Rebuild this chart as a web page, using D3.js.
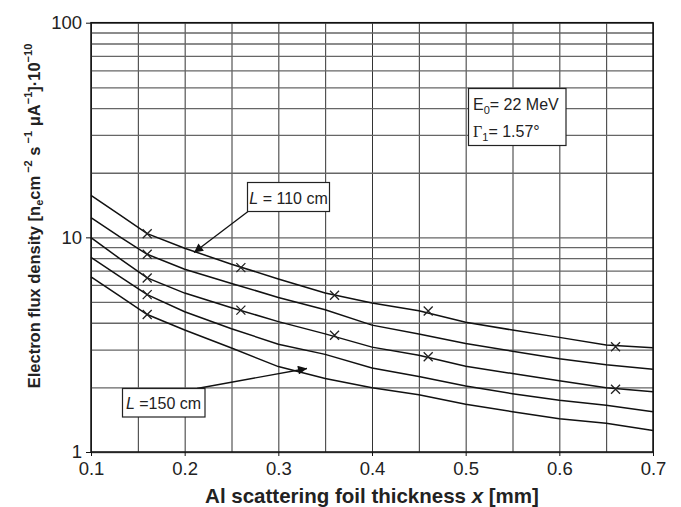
<!DOCTYPE html>
<html>
<head>
<meta charset="utf-8">
<script src="https://cdn.jsdelivr.net/npm/d3@7"></script>
<style>
  html, body { margin: 0; padding: 0; background: #fff; }
  svg { display: block; font-family: "Liberation Sans", Arial, sans-serif; }
</style>
</head>
<body>
<svg id="chart" width="681" height="507"></svg>
<script>
// ---- data ----
const xValues = [0.1, 0.13, 0.16, 0.2, 0.25, 0.3, 0.35, 0.4, 0.45, 0.5, 0.55, 0.6, 0.65, 0.7];
const curve1 = [15.7, 12.8, 10.4, 8.9, 7.5, 6.4, 5.5, 4.95, 4.55, 4.02, 3.7, 3.42, 3.15, 3.06]; // L = 110 cm
const curve2 = [12.35, 10.1, 8.34, 7.1, 6.1, 5.25, 4.6, 3.9, 3.55, 3.2, 2.95, 2.72, 2.55, 2.43];
const curve3 = [9.97, 8.0, 6.47, 5.5, 4.7, 4.05, 3.55, 3.08, 2.82, 2.51, 2.32, 2.15, 1.99, 1.91];
const curve4 = [8.07, 6.6, 5.41, 4.5, 3.75, 3.18, 2.85, 2.46, 2.25, 2.03, 1.87, 1.74, 1.65, 1.54];
const curve5 = [6.54, 5.35, 4.37, 3.7, 3.05, 2.5, 2.2, 1.99, 1.85, 1.67, 1.54, 1.43, 1.36, 1.26]; // L = 150 cm
const markerX = [0.16, 0.16, 0.16, 0.16, 0.16, 0.26, 0.26, 0.36, 0.36, 0.46, 0.46, 0.66, 0.66];
const markerY = [10.4, 8.34, 6.47, 5.41, 4.37, 7.23, 4.58, 5.37, 3.50, 4.54, 2.78, 3.09, 1.96];
const xTickLabels = [0.1, 0.2, 0.3, 0.4, 0.5, 0.6, 0.7];
const yTickLabels = [1, 10, 100];

// ---- layout ----
const L = 91, R = 653, T = 22.7, B = 452;
const svg = d3.select("#chart");
const x = d3.scaleLinear().domain([0.1, 0.7]).range([L, R]);
const y = d3.scaleLog().domain([1, 100]).range([B, T]);

// grid: vertical every 0.05
const xGrid = d3.range(0, 13).map(i => +(0.1 + i * 0.05).toFixed(2));
svg.append("g").attr("transform", `translate(0,${B})`)
  .call(d3.axisBottom(x).tickValues(xGrid).tickSize(-(B - T)).tickFormat(""))
  .call(g => g.select(".domain").remove())
  .call(g => g.selectAll("line").attr("stroke", "#333").attr("stroke-width", 1));

// grid: horizontal log minor lines
const yGrid = [];
for (const d of [1, 10]) for (let k = 1; k <= 10; k++) yGrid.push(d * k);
svg.append("g").attr("transform", `translate(${L},0)`)
  .call(d3.axisLeft(y).tickValues(Array.from(new Set(yGrid))).tickSize(-(R - L)).tickFormat(""))
  .call(g => g.select(".domain").remove())
  .call(g => g.selectAll("line").attr("stroke", "#666").attr("stroke-width", 1.3));

// frame
svg.append("rect").attr("x", L).attr("y", T).attr("width", R - L).attr("height", B - T)
  .attr("fill", "none").attr("stroke", "#111").attr("stroke-width", 1.5);

// x axis ticks + labels
svg.append("g").attr("transform", `translate(0,${B})`)
  .call(d3.axisBottom(x).tickValues(xTickLabels).tickSize(4).tickPadding(6).tickFormat(d3.format(".1f")))
  .call(g => g.select(".domain").remove())
  .call(g => g.selectAll("line").attr("stroke", "#111"))
  .call(g => g.selectAll("text").attr("font-size", 18.5).attr("fill", "#222")
    .attr("font-family", "Liberation Sans, Arial, sans-serif"));

// y axis ticks + labels
svg.append("g").attr("transform", `translate(${L},0)`)
  .call(d3.axisLeft(y).tickValues(yTickLabels).tickSize(5).tickPadding(4).tickFormat(d3.format("d")))
  .call(g => g.select(".domain").remove())
  .call(g => g.selectAll("line").attr("stroke", "#111"))
  .call(g => g.selectAll("text").attr("font-size", 18.5).attr("fill", "#222")
    .attr("font-family", "Liberation Sans, Arial, sans-serif"));

// curves
const line = d3.line().x(d => x(d[0])).y(d => y(d[1])).curve(d3.curveLinear);
[curve1, curve2, curve3, curve4, curve5].forEach(c => {
  svg.append("path").datum(xValues.map((xv, i) => [xv, c[i]]))
    .attr("d", line).attr("fill", "none").attr("stroke", "#111").attr("stroke-width", 1.5);
});

// markers
const ms = 4.5;
markerX.forEach((mx, i) => {
  const cx = x(mx), cy = y(markerY[i]);
  svg.append("path")
    .attr("d", `M${cx - ms},${cy - ms}L${cx + ms},${cy + ms}M${cx - ms},${cy + ms}L${cx + ms},${cy - ms}`)
    .attr("stroke", "#222").attr("stroke-width", 1.3).attr("fill", "none");
});

// arrowhead marker
svg.append("defs").append("marker").attr("id", "ah")
  .attr("viewBox", "0 0 10 10").attr("refX", 10).attr("refY", 5)
  .attr("markerWidth", 15).attr("markerHeight", 9).attr("markerUnits", "userSpaceOnUse")
  .attr("orient", "auto")
  .append("path").attr("d", "M0,0L10,5L0,10Z").attr("fill", "#111");

// annotation: L = 110 cm
svg.append("line").attr("x1", 248).attr("y1", 211.5).attr("x2", 194).attr("y2", 252.5)
  .attr("stroke", "#111").attr("stroke-width", 1.3).attr("marker-end", "url(#ah)");
svg.append("rect").attr("x", 247.5).attr("y", 182.5).attr("width", 82).attr("height", 29)
  .attr("fill", "#fff").attr("stroke", "#222").attr("stroke-width", 1.2);
const t110 = svg.append("text").attr("x", 288.5).attr("y", 203.5).attr("text-anchor", "middle")
  .attr("font-size", 16).attr("fill", "#222");
t110.append("tspan").attr("font-style", "italic").text("L");
t110.append("tspan").text(" = 110 cm");

// annotation: L = 150 cm
svg.append("line").attr("x1", 197).attr("y1", 388.5).attr("x2", 307).attr("y2", 368.5)
  .attr("stroke", "#111").attr("stroke-width", 1.3).attr("marker-end", "url(#ah)");
svg.append("rect").attr("x", 122.5).attr("y", 388.5).attr("width", 82.5).attr("height", 28.5)
  .attr("fill", "#fff").attr("stroke", "#222").attr("stroke-width", 1.2);
const t150 = svg.append("text").attr("x", 163.5).attr("y", 408.5).attr("text-anchor", "middle")
  .attr("font-size", 16).attr("fill", "#222");
t150.append("tspan").attr("font-style", "italic").text("L");
t150.append("tspan").text(" =150 cm");

// parameter box
svg.append("rect").attr("x", 468.5).attr("y", 88.5).attr("width", 97.5).attr("height", 57)
  .attr("fill", "#fff").attr("stroke", "#222").attr("stroke-width", 1.2);
const tE = svg.append("text").attr("x", 473).attr("y", 110).attr("font-size", 16).attr("fill", "#222");
tE.append("tspan").text("E");
tE.append("tspan").attr("font-size", 11).attr("dy", 4).text("0");
tE.append("tspan").attr("dy", -4).text("= 22 MeV");
const tG = svg.append("text").attr("x", 473).attr("y", 137).attr("font-size", 16).attr("fill", "#222");
tG.append("tspan").attr("font-family", "Liberation Serif, Times New Roman, serif").text("Γ");
tG.append("tspan").attr("font-size", 11).attr("dy", 4).text("1");
tG.append("tspan").attr("dy", -4).text("= 1.57°");

// x axis title
const xt = svg.append("text").attr("x", (L + R) / 2).attr("y", 503).attr("text-anchor", "middle")
  .attr("font-size", 20.5).attr("font-weight", "bold").attr("fill", "#222");
xt.append("tspan").text("Al scattering foil thickness ");
xt.append("tspan").attr("font-style", "italic").text("x");
xt.append("tspan").text(" [mm]");

// y axis title
const yt = svg.append("text").attr("transform", `translate(40,216) rotate(-90)`)
  .attr("text-anchor", "middle").attr("font-size", 16.5).attr("font-weight", "bold").attr("fill", "#222");
yt.append("tspan").text("Electron flux density [n");
yt.append("tspan").attr("font-size", 11).attr("dy", 3).text("e");
yt.append("tspan").attr("dy", -3).text("cm");
yt.append("tspan").attr("font-size", 11).attr("dy", -8).text(" −2");
yt.append("tspan").attr("dy", 8).text(" s");
yt.append("tspan").attr("font-size", 11).attr("dy", -8).text(" −1");
yt.append("tspan").attr("dy", 8).text(" μA");
yt.append("tspan").attr("font-size", 11).attr("dy", -8).text("−1");
yt.append("tspan").attr("dy", 8).text("]·10");
yt.append("tspan").attr("font-size", 11).attr("dy", -8).text("−10");
</script>
</body>
</html>
